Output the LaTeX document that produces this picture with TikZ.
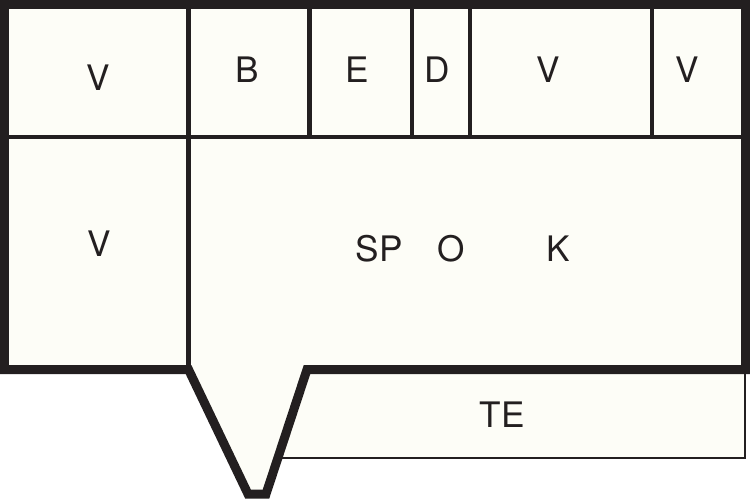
\documentclass[tikz,border=0pt]{standalone}
\usepackage{fontspec}
\setsansfont{TeX Gyre Heros}
\usepackage{xcolor}
\definecolor{ink}{HTML}{231F20}
\definecolor{paper}{HTML}{FDFDF7}
\usepackage{tikz}

\begin{document}
\begin{tikzpicture}[x=0.02cm,y=-0.02cm,line width=0.09cm,line join=miter,
    lbl/.style={inner sep=0pt,text=ink,font=\sffamily\fontsize{20}{24}\selectfont}]
  \useasboundingbox[fill=white] (0,0) rectangle (750,500);
  % strip below the block
  \draw[ink,fill=paper,line width=0.03cm] (270,369.5) rectangle (745,458);
  % outer block with the spout
  \draw[ink,fill=paper,line width=0.18cm] (4.5,4.5) -- (745.5,4.5) -- (745.5,369.5)
    -- (307,369.5) -- (266,494) -- (248,494) -- (188.5,369.5) -- (4.5,369.5) -- cycle;
  % dividers
  \draw[ink] (4.5,137) -- (745.5,137);
  \draw[ink] (188.5,4.5) -- (188.5,369.5);
  \foreach \x in {309.5,412,470,652}
    \draw[ink] (\x,4.5) -- (\x,137);
  % labels
  \node[lbl] (vtop) at (98,78) {V};
  \node[lbl] (b) at (247.5,70) {B};
  \node[lbl] (e) at (357.5,70) {E};
  \node[lbl] (d) at (437.5,70) {D};
  \node[lbl] (vmid) at (548,70) {V};
  \node[lbl] (vright) at (687,70) {V};
  \node[lbl] (vlow) at (99,244) {V};
  \node[lbl] (sp) at (379,248.5) {SP};
  \node[lbl] (o) at (451,248.5) {O};
  \node[lbl] (k) at (558.5,248.5) {K};
  \node[lbl] (te) at (502,414.5) {TE};
\end{tikzpicture}
\end{document}
